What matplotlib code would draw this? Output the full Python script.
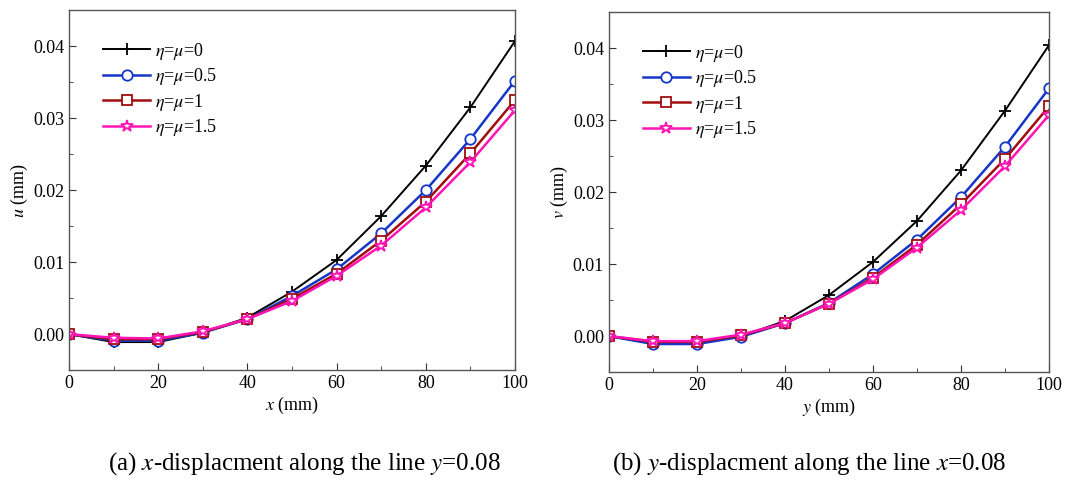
import matplotlib
matplotlib.use('Agg')
import matplotlib.pyplot as plt
from matplotlib.ticker import MultipleLocator

#----------------  Data  -------------------------------------------

pos = [0, 10, 20, 30, 40, 50, 60, 70, 80, 90, 100]
labels = [r'$\eta$=$\mu$=0', r'$\eta$=$\mu$=0.5', r'$\eta$=$\mu$=1', r'$\eta$=$\mu$=1.5']

# (a) u along y=0.08
u_0   = [0, -0.0011, -0.0011, 0.0002, 0.0023, 0.0059, 0.0103, 0.0164, 0.0234, 0.0315, 0.0407]
u_05  = [0, -0.0009, -0.0009, 0.0002, 0.0021, 0.0053, 0.0090, 0.0140, 0.0200, 0.0271, 0.0352]
u_1   = [0, -0.0007, -0.0007, 0.0003, 0.0021, 0.0049, 0.0084, 0.0130, 0.0184, 0.0251, 0.0325]
u_15  = [0, -0.0005, -0.0006, 0.0004, 0.0021, 0.0046, 0.0081, 0.0123, 0.0176, 0.0239, 0.0311]

# (b) v along x=0.08
v_0   = [0, -0.0010, -0.0010, 0.0000, 0.0021, 0.0057, 0.0103, 0.0160, 0.0230, 0.0313, 0.0404]
v_05  = [0, -0.0011, -0.0011, -0.0001, 0.0018, 0.0046, 0.0086, 0.0134, 0.0193, 0.0263, 0.0344]
v_1   = [0, -0.0008, -0.0008, 0.0001, 0.0018, 0.0045, 0.0081, 0.0127, 0.0183, 0.0246, 0.0319]
v_15  = [0, -0.0007, -0.0007, 0.0002, 0.0018, 0.0045, 0.0079, 0.0123, 0.0175, 0.0236, 0.0307]

colors  = ['black', '#1536c8', '#a00d0d', '#ff14b4']
markers = ['+', 'o', 's', '*']
msizes  = [8, 7.5, 6.5, 9]
lwidths = [1.4, 1.8, 1.8, 1.8]

#----------------  Style  --------------------

plt.rcParams['font.family'] = 'Liberation Serif'
plt.rcParams['mathtext.fontset'] = 'stix'

fig = plt.figure(figsize=(10.68, 4.82), dpi=100)
ax1 = fig.add_axes([0.0646, 0.232, 0.4176, 0.747])
ax2 = fig.add_axes([0.5702, 0.228, 0.4120, 0.747])


def draw_panel(ax, series, xlab, ylab):
    for ys, c, m, ms, lw, lab in zip(series, colors, markers, msizes, lwidths, labels):
        ax.plot(pos, ys, color=c, marker=m, markersize=ms, lw=lw,
                markerfacecolor='white' if m != '+' else c,
                markeredgecolor=c, markeredgewidth=1.3, label=lab)
    ax.set_xlim(0, 100)
    ax.set_ylim(-0.005, 0.045)
    ax.xaxis.set_major_locator(MultipleLocator(20))
    ax.xaxis.set_minor_locator(MultipleLocator(10))
    ax.yaxis.set_major_locator(MultipleLocator(0.01))
    ax.yaxis.set_minor_locator(MultipleLocator(0.005))
    ax.yaxis.set_major_formatter(plt.FormatStrFormatter('%.2f'))
    ax.tick_params(which='both', direction='in', top=False, right=False,
                   labelsize=13, colors='#333333', labelcolor='black')
    ax.tick_params(which='major', length=5)
    ax.tick_params(which='minor', length=3)
    for s in ax.spines.values():
        s.set_color('#555555')
        s.set_linewidth(1.0)
    ax.set_xlabel(xlab, fontsize=13, labelpad=2)
    ax.set_ylabel(ylab, fontsize=13, labelpad=2)
    ax.legend(loc='upper left', bbox_to_anchor=(0.04, 0.96), frameon=False,
              fontsize=13, handlelength=2.6, handletextpad=0.3, labelspacing=0.25)


draw_panel(ax1, [u_0, u_05, u_1, u_15], r'$x$ (mm)', r'$u$ (mm)')
draw_panel(ax2, [v_0, v_05, v_1, v_15], r'$y$ (mm)', r'$v$ (mm)')

fig.text(0.285, 0.025, r'(a) $x$-displacment along the line $y$=0.08', ha='center', fontsize=18)
fig.text(0.758, 0.025, r'(b) $y$-displacment along the line $x$=0.08', ha='center', fontsize=18)

fig.savefig('out.png', dpi=100)
